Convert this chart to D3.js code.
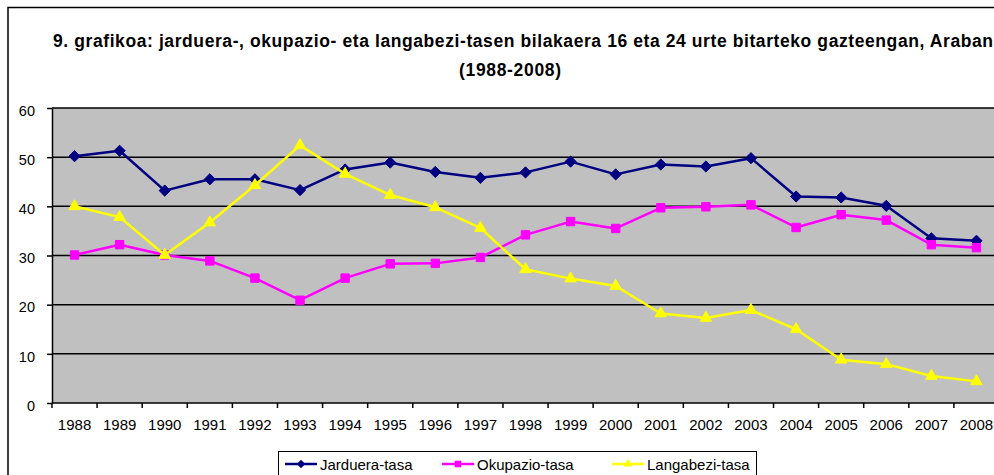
<!DOCTYPE html>
<html>
<head>
<meta charset="utf-8">
<script src="https://cdn.jsdelivr.net/npm/d3@7"></script>
<style>
  body { margin: 0; background: #fff; }
  svg { display: block; font-family: Arial, "Liberation Sans", sans-serif; }
</style>
</head>
<body>
<svg id="chart" width="994" height="475"></svg>
<script>
const years = ["1988","1989","1990","1991","1992","1993","1994","1995","1996","1997","1998",
               "1999","2000","2001","2002","2003","2004","2005","2006","2007","2008"];
const jarduera  = [50.2,51.3,43.2,45.5,45.5,43.3,47.5,48.9,47.0,45.8,46.9,49.1,46.5,48.5,48.1,49.8,42.0,41.8,40.1,33.5,33.0];
const okupazio  = [30.1,32.2,30.1,28.9,25.4,20.9,25.4,28.3,28.4,29.6,34.2,36.9,35.5,39.7,39.9,40.3,35.7,38.3,37.2,32.2,31.6];
const langabezi = [40.0,37.8,30.1,36.7,44.3,52.4,46.6,42.3,39.8,35.6,27.2,25.3,23.8,18.2,17.3,18.9,15.0,8.8,7.9,5.5,4.4];
const yTicks = [0,10,20,30,40,50,60];
const titleLines = ["9. grafikoa: jarduera-, okupazio- eta langabezi-tasen bilakaera 16 eta 24 urte bitarteko gazteengan, Araban",
                    "(1988-2008)"];

const series = [
  {name: "Jarduera-tasa",  values: jarduera,  color: "#000080", symbol: d3.symbolDiamond2, size: 80},
  {name: "Okupazio-tasa",  values: okupazio,  color: "#FF00FF", symbol: d3.symbolSquare2,  size: 90},
  {name: "Langabezi-tasa", values: langabezi, color: "#FFFF00", symbol: d3.symbolTriangle2, size: 95}
];

const svg = d3.select("#chart");
const margin = {top: 108, left: 52, bottom: 403, right: 999};

// outer frame
svg.append("path")
    .attr("d", "M8,475 V7.5 H994")
    .attr("fill", "none")
    .attr("stroke", "#000")
    .attr("stroke-width", 1.5);

// title
const titleX = [523, 510], titleY = [47, 76], titleLen = [940, 102];
svg.append("g").selectAll("text")
  .data(titleLines)
  .join("text")
    .attr("x", (d, i) => titleX[i])
    .attr("y", (d, i) => titleY[i])
    .attr("text-anchor", "middle")
    .attr("font-size", 17.5)
    .attr("font-weight", "bold")
    .attr("textLength", (d, i) => titleLen[i])
    .attr("lengthAdjust", "spacing")
    .text(d => d);

const x = d3.scaleBand().domain(years).range([margin.left, margin.right]).padding(0);
const y = d3.scaleLinear().domain([0, 60]).range([margin.bottom, margin.top]);

// plot area
svg.append("rect")
    .attr("x", margin.left)
    .attr("y", margin.top)
    .attr("width", margin.right - margin.left)
    .attr("height", margin.bottom - margin.top)
    .attr("fill", "#C0C0C0");

// gridlines
svg.append("g").selectAll("line")
  .data(yTicks.filter(d => d > 0))
  .join("line")
    .attr("x1", margin.left)
    .attr("x2", margin.right)
    .attr("y1", d => y(d))
    .attr("y2", d => y(d))
    .attr("stroke", "#000")
    .attr("stroke-width", 1.5);

// y axis
svg.append("g")
    .attr("transform", `translate(${margin.left},0)`)
    .call(d3.axisLeft(y).tickValues(yTicks).tickSize(5).tickSizeOuter(0))
    .call(g => g.select(".domain").attr("stroke-width", 1.5))
    .call(g => g.selectAll(".tick line").attr("stroke-width", 1.5))
    .call(g => g.selectAll(".tick text")
        .attr("font-size", 14.5)
        .attr("font-family", "Arial, 'Liberation Sans', sans-serif")
        .attr("x", -17)
        .attr("dy", "0.5em")
        .attr("fill", "#000"));

// x axis: labels centred in band, tick marks on band edges
const xAxis = svg.append("g").attr("transform", `translate(0,${margin.bottom})`);
xAxis.append("line")
    .attr("x1", margin.left).attr("x2", margin.right)
    .attr("stroke", "#000").attr("stroke-width", 1.5);
xAxis.selectAll(".edge")
  .data(years)
  .join("line")
    .attr("class", "edge")
    .attr("x1", d => x(d)).attr("x2", d => x(d))
    .attr("y1", 0).attr("y2", 5)
    .attr("stroke", "#000").attr("stroke-width", 1.5);
xAxis.selectAll("text")
  .data(years)
  .join("text")
    .attr("x", d => x(d) + x.bandwidth() / 2)
    .attr("y", 27)
    .attr("text-anchor", "middle")
    .attr("font-size", 15)
    .text(d => d);

const cx = i => x(years[i]) + x.bandwidth() / 2;
const line = d3.line().x((d, i) => cx(i)).y(d => y(d));

series.forEach(s => {
  svg.append("path")
      .datum(s.values)
      .attr("fill", "none")
      .attr("stroke", s.color)
      .attr("stroke-width", 2.5)
      .attr("stroke-linejoin", "round")
      .attr("d", line);
  svg.append("g").selectAll("path")
    .data(s.values)
    .join("path")
      .attr("transform", (d, i) => `translate(${cx(i)},${y(d)})`)
      .attr("d", d3.symbol(s.symbol, s.size))
      .attr("fill", s.color)
      .attr("stroke", s.color);
});

// legend
const legend = svg.append("g");
legend.append("rect")
    .attr("x", 278.5).attr("y", 451.5)
    .attr("width", 478).attr("height", 30)
    .attr("fill", "#fff")
    .attr("stroke", "#000")
    .attr("stroke-width", 1);
const legendX = [285, 442, 612];
const item = legend.selectAll(".item")
  .data(series)
  .join("g")
    .attr("class", "item")
    .attr("transform", (d, i) => `translate(${legendX[i]},464)`);
item.append("line")
    .attr("x1", 0).attr("x2", 32)
    .attr("stroke", d => d.color)
    .attr("stroke-width", 2.5);
item.append("path")
    .attr("transform", "translate(16,0)")
    .attr("d", d => d3.symbol(d.symbol, d.size * 0.6)())
    .attr("fill", d => d.color);
item.append("text")
    .attr("x", 35)
    .attr("y", 5.5)
    .attr("font-size", 15)
    .text(d => d.name);
</script>
</body>
</html>
